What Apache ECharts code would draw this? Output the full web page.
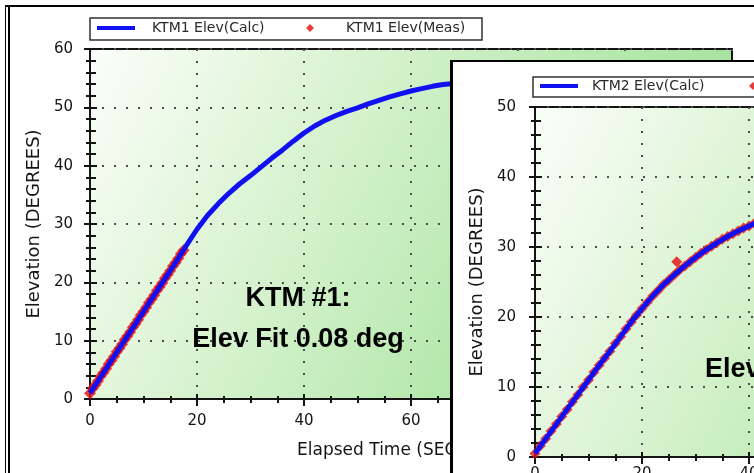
<!DOCTYPE html>
<html>
<head>
<meta charset="utf-8">
<title>KTM elevation fits</title>
<script src="https://cdn.jsdelivr.net/npm/echarts@6/dist/echarts.min.js"></script>
<style>
  html, body { margin: 0; padding: 0; width: 754px; height: 473px; overflow: hidden; background: #fff; position: relative; }
  #frame1 { position: absolute; left: 5px; top: 5px; width: 900px; height: 600px; border-left: 1px solid #000; border-top: 2px solid #000; }
  #frame1in { position: absolute; left: 8px; top: 7px; width: 900px; height: 600px; border-left: 2px solid #000; }
  #chart1 { position: absolute; left: 0; top: 0; width: 760px; height: 480px; }
  #box2 { position: absolute; left: 450px; top: 60px; width: 320px; height: 430px; background: #fff; border-left: 3px solid #000; border-top: 2px solid #000; overflow: hidden; }
  #chart2 { position: absolute; left: 0; top: 0; width: 760px; height: 480px; }
</style>
</head>
<body>
<div id="frame1"></div>
<div id="frame1in"></div>
<div id="chart1"></div>
<div id="box2"><div id="chart2"></div></div>
<script>
// KTM #1 -- calculated elevation (deg) against elapsed time (s)
var ktm1CalcTime = [0, 2, 4, 6, 8, 10, 12, 14, 16, 18, 20, 22, 24, 26, 28, 30, 32, 34, 36, 38, 40, 42, 44, 46, 48, 50, 52, 54, 56, 58, 60, 62, 64, 66, 68, 70];
var ktm1CalcElev = [1.0, 3.8, 6.6, 9.4, 12.2, 15.0, 17.8, 20.6, 23.4, 26.3, 29.1, 31.5, 33.5, 35.3, 36.9, 38.3, 39.8, 41.3, 42.7, 44.2, 45.6, 46.8, 47.8, 48.6, 49.3, 49.9, 50.6, 51.2, 51.8, 52.3, 52.8, 53.2, 53.6, 53.9, 54.1, 54.2];
// KTM #1 -- measured elevation
var ktm1MeasTime = [0, 0.5, 1, 1.5, 2, 2.5, 3, 3.5, 4, 4.5, 5, 5.5, 6, 6.5, 7, 7.5, 8, 8.5, 9, 9.5, 10, 10.5, 11, 11.5, 12, 12.5, 13, 13.5, 14, 14.5, 15, 15.5, 16, 16.5, 17, 17.5];
var ktm1MeasElev = [1.0, 1.8, 2.4, 3.1, 3.9, 4.5, 5.2, 6.0, 6.6, 7.3, 8.1, 8.7, 9.4, 10.2, 10.8, 11.5, 12.3, 12.9, 13.6, 14.4, 15.0, 15.7, 16.5, 17.1, 17.8, 18.6, 19.2, 19.9, 20.7, 21.3, 22.0, 22.8, 23.4, 24.1, 24.9, 25.5];

// KTM #2 -- calculated elevation
var ktm2CalcTime = [0, 2, 4, 6, 8, 10, 12, 14, 16, 18, 20, 22, 24, 26, 28, 30, 32, 34, 36, 38, 40, 42, 44];
var ktm2CalcElev = [0.5, 2.6, 4.7, 6.8, 8.9, 11.0, 13.1, 15.1, 17.2, 19.3, 21.2, 23.0, 24.6, 26.0, 27.3, 28.5, 29.6, 30.6, 31.5, 32.3, 33.0, 33.7, 34.3];
// KTM #2 -- measured elevation (one stray point near 26.5 s)
var ktm2MeasTime = [0, 1, 2, 3, 4, 5, 6, 7, 8, 9, 10, 11, 12, 13, 14, 15, 16, 17, 18, 19, 20, 21, 22, 23, 24, 25, 26, 26.5, 27, 28, 29, 30, 31, 32, 33, 34, 35, 36, 37, 38, 39, 40, 41, 42, 43, 44];
var ktm2MeasElev = [0.5, 1.6, 2.6, 3.7, 4.7, 5.8, 6.8, 7.9, 8.9, 10.0, 11.0, 12.1, 13.1, 14.1, 15.1, 16.2, 17.2, 18.3, 19.3, 20.3, 21.2, 22.1, 23.0, 23.8, 24.6, 25.3, 26.0, 27.9, 26.7, 27.3, 27.9, 28.5, 29.1, 29.6, 30.1, 30.6, 31.1, 31.5, 31.9, 32.3, 32.7, 33.0, 33.4, 33.7, 34.0, 34.3];

// axis ranges / ticks
var timeMax = 120, timeStep = 20;
var ktm1ElevMax = 60, ktm2ElevMax = 50, elevStep = 10;

var ink = '#141414';
var textFont = 'DejaVu Sans';

function pairs(xs, ys) {
  return xs.map(function (x, i) { return [x, ys[i]]; });
}

// plot background: near white top-left fading to green bottom-right
function plotFill() {
  return {
    type: 'linear', x: 0, y: 0, x2: 1, y2: 1,
    colorStops: [
      { offset: 0, color: '#fbfefa' },
      { offset: 0.3, color: '#dcf4d4' },
      { offset: 0.65, color: '#b4e8ac' },
      { offset: 1, color: '#92d98a' }
    ]
  };
}

// main axes carry labels + outer ticks, duplicates draw the inner half
// of the crossing ticks, the top axis mirrors the ticks on the frame
function buildAxes(yMax, xLabelMargin, yLabelMargin, yNameGap) {
  var dotted = { show: true, lineStyle: { color: '#4c4c4c', width: 2, type: [2, 10] } };
  var tickLine = { color: ink, width: 2 };
  var xBase = { type: 'value', min: 0, max: timeMax, interval: timeStep };
  var yBase = { type: 'value', min: 0, max: yMax, interval: elevStep };
  var xAxes = [
    Object.assign({}, xBase, {
      position: 'bottom',
      name: 'Elapsed Time (SECONDS)', nameLocation: 'middle', nameGap: 43,
      nameTextStyle: { color: ink, fontSize: 17, fontFamily: textFont, padding: [0, 12, 0, 0] },
      axisLine: { show: true, onZero: false, lineStyle: { color: ink, width: 2 } },
      axisTick: { show: true, length: 7, lineStyle: tickLine },
      minorTick: { show: true, splitNumber: 4, length: 3, lineStyle: tickLine },
      axisLabel: { color: ink, fontSize: 15, fontFamily: textFont, margin: xLabelMargin },
      splitLine: dotted
    }),
    Object.assign({}, xBase, {
      position: 'bottom',
      axisLine: { show: false },
      axisTick: { show: true, inside: true, length: 5, lineStyle: tickLine },
      minorTick: { show: true, splitNumber: 4, length: 3, lineStyle: tickLine },
      axisLabel: { show: false }, splitLine: { show: false }
    }),
    Object.assign({}, xBase, {
      position: 'top',
      axisLine: { show: false },
      axisTick: { show: true, inside: true, length: 6, lineStyle: tickLine },
      minorTick: { show: true, splitNumber: 4, length: 4, lineStyle: tickLine },
      axisLabel: { show: false }, splitLine: { show: false }
    })
  ];
  var yAxes = [
    Object.assign({}, yBase, {
      position: 'left',
      name: 'Elevation (DEGREES)', nameLocation: 'middle', nameGap: yNameGap,
      nameTextStyle: { color: ink, fontSize: 18, fontFamily: textFont },
      axisLine: { show: true, onZero: false, lineStyle: { color: ink, width: 2 } },
      axisTick: { show: true, length: 6, lineStyle: tickLine },
      minorTick: { show: true, splitNumber: 5, length: 4, lineStyle: tickLine },
      axisLabel: { color: ink, fontSize: 15, fontFamily: textFont, margin: yLabelMargin },
      splitLine: dotted
    }),
    Object.assign({}, yBase, {
      position: 'left',
      axisLine: { show: false },
      axisTick: { show: true, inside: true, length: 7, lineStyle: tickLine },
      minorTick: { show: true, splitNumber: 5, length: 6, lineStyle: tickLine },
      axisLabel: { show: false }, splitLine: { show: false }
    })
  ];
  return { x: xAxes, y: yAxes };
}

function buildOption(p) {
  var axes = buildAxes(p.yMax, p.xLabelMargin, p.yLabelMargin, p.yNameGap);
  var legendText = { color: '#2a2a2a', fontSize: 14, fontFamily: textFont };
  return {
    animation: false,
    grid: {
      left: p.grid[0], top: p.grid[1], width: 642, height: 350,
      show: true, backgroundColor: plotFill(), borderColor: ink, borderWidth: 2
    },
    legend: [
      {
        data: [{ name: p.calcName, icon: 'rect' }],
        left: p.legendLeft, top: p.legendTop, padding: 0,
        itemWidth: 38, itemHeight: 4, selectedMode: false,
        textStyle: Object.assign({ padding: [0, 0, 0, p.textPad] }, legendText)
      },
      {
        data: [{ name: p.measName, icon: 'diamond' }],
        left: p.legendLeft + 209, top: p.legendTop, padding: 0,
        itemWidth: 8, itemHeight: 8, selectedMode: false,
        textStyle: Object.assign({ padding: [0, 0, 0, 27] }, legendText)
      }
    ],
    xAxis: axes.x,
    yAxis: axes.y,
    graphic: p.graphic,
    series: [
      {
        name: p.measName, type: 'scatter', symbol: 'diamond', symbolSize: p.measSize,
        itemStyle: { color: '#e40c0c' }, z: 3,
        data: pairs(p.measT, p.measE)
      },
      {
        name: p.calcName, type: 'line', showSymbol: false, symbol: 'none',
        color: '#1010f2', lineStyle: { color: '#1010f2', width: 5 }, z: 4,
        data: pairs(p.calcT, p.calcE)
      }
    ]
  };
}

var noteFont = 'bold 27px "Liberation Sans", Arial, sans-serif';

var chart1 = echarts.init(document.getElementById('chart1'));
chart1.setOption(buildOption({
  yMax: ktm1ElevMax, grid: [90, 49], xLabelMargin: 15, yLabelMargin: 17, yNameGap: 44,
  calcName: 'KTM1 Elev(Calc)', measName: 'KTM1 Elev(Meas)',
  calcT: ktm1CalcTime, calcE: ktm1CalcElev, measT: ktm1MeasTime, measE: ktm1MeasElev, measSize: 12,
  legendLeft: 97, legendTop: 21, textPad: 12,
  graphic: [
    { type: 'rect', z: 1, shape: { x: 90, y: 18, width: 392, height: 22 },
      style: { fill: '#fff', stroke: '#303030', lineWidth: 1.5 } },
    { type: 'text', z: 20, x: 298, y: 299,
      style: { text: 'KTM #1:', font: noteFont, fill: '#000', align: 'center', verticalAlign: 'middle' } },
    { type: 'text', z: 20, x: 298, y: 340,
      style: { text: 'Elev Fit 0.08 deg', font: noteFont, fill: '#000', align: 'center', verticalAlign: 'middle' } }
  ]
}));

var chart2 = echarts.init(document.getElementById('chart2'));
chart2.setOption(buildOption({
  yMax: ktm2ElevMax, grid: [82, 45], xLabelMargin: 10, yLabelMargin: 19, yNameGap: 48,
  calcName: 'KTM2 Elev(Calc)', measName: 'KTM2 Elev(Meas)',
  calcT: ktm2CalcTime, calcE: ktm2CalcElev, measT: ktm2MeasTime, measE: ktm2MeasElev, measSize: 11,
  legendLeft: 87, legendTop: 17, textPad: 9,
  graphic: [
    { type: 'rect', z: 1, shape: { x: 80, y: 15, width: 400, height: 20 },
      style: { fill: '#fff', stroke: '#303030', lineWidth: 1.5 } },
    { type: 'text', z: 20, x: 252, y: 308,
      style: { text: 'Elev Fit', font: noteFont, fill: '#000', align: 'left', verticalAlign: 'middle' } }
  ]
}));
</script>
</body>
</html>
